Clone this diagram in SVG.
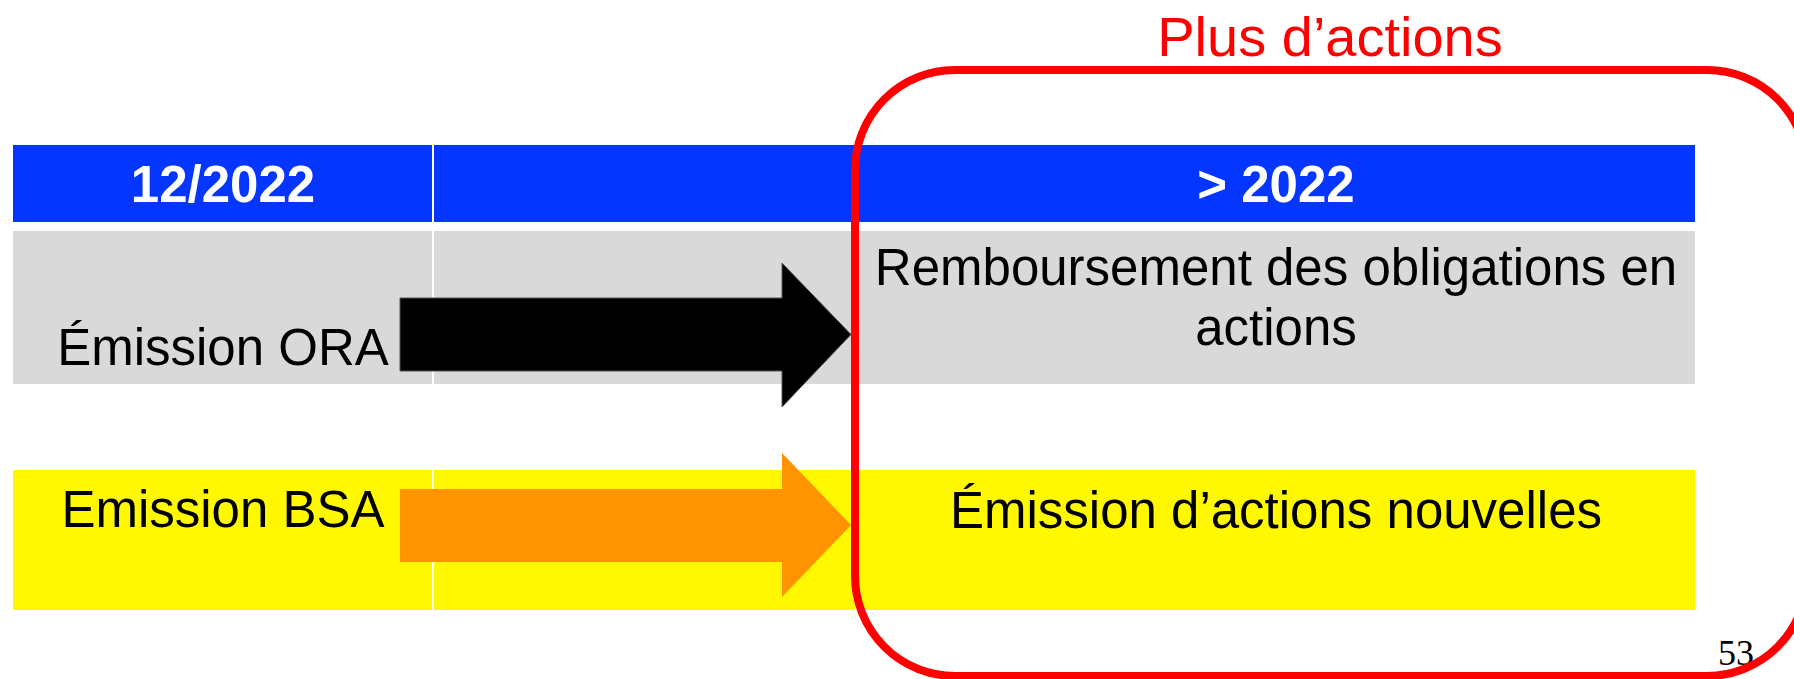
<svg xmlns="http://www.w3.org/2000/svg" width="1794" height="679" viewBox="0 0 1794 679">
<style>
.hdr{fill:#0536FF}
.gray{fill:#D9D9D9}
.yel{fill:#FFF800}
.t{font-family:"Liberation Sans",Arial,sans-serif;font-size:51px;fill:#000;text-anchor:middle}
.th{font-family:"Liberation Sans",Arial,sans-serif;font-size:51px;font-weight:bold;fill:#FFFFFF;text-anchor:middle}
</style>
<rect width="1794" height="679" fill="#FFFFFF"/>
<g id="header">
<rect class="hdr" x="13" y="145" width="419" height="77"/>
<rect class="hdr" x="434" y="145" width="421" height="77"/>
<rect class="hdr" x="857" y="145" width="838" height="77"/>
<text class="th" x="223" y="202">12/2022</text>
<text class="th" x="1276" y="202">&gt; 2022</text>
</g>
<g id="row-ora">
<rect class="gray" x="13" y="231" width="419" height="153"/>
<rect class="gray" x="434" y="231" width="421" height="153"/>
<rect class="gray" x="857" y="231" width="838" height="153"/>
<text class="t" x="223" y="365">Émission ORA</text>
<text class="t" x="1276" y="285">Remboursement des obligations en</text>
<text class="t" x="1276" y="345">actions</text>
</g>
<g id="row-bsa">
<rect class="yel" x="13" y="470" width="419" height="140"/>
<rect class="yel" x="434" y="470" width="421" height="140"/>
<rect class="yel" x="857" y="470" width="838" height="140"/>
<text class="t" x="223" y="527">Emission BSA</text>
<text class="t" x="1276" y="528">Émission d’actions nouvelles</text>
</g>
<g id="connectors">
<path d="M400,298 H782 V263 L851,334.5 L782,407 V371 H400 Z" fill="#000000" stroke="#555" stroke-width="1"/>
<path d="M400,489 H782 V453 L851,525 L782,597 V562 H400 Z" fill="#FF9300"/>
</g>
<text x="1718" y="665" font-family="'Liberation Serif','Times New Roman',serif" font-size="36" fill="#000">53</text>
<g id="frame">
<rect x="855" y="70" width="952" height="606" rx="100" ry="100" fill="none" stroke="#FF0000" stroke-width="8"/>
<text x="1330" y="56" font-family="'Liberation Sans',Arial,sans-serif" font-size="56" fill="#FF0000" text-anchor="middle">Plus d’actions</text>
</g>
</svg>
